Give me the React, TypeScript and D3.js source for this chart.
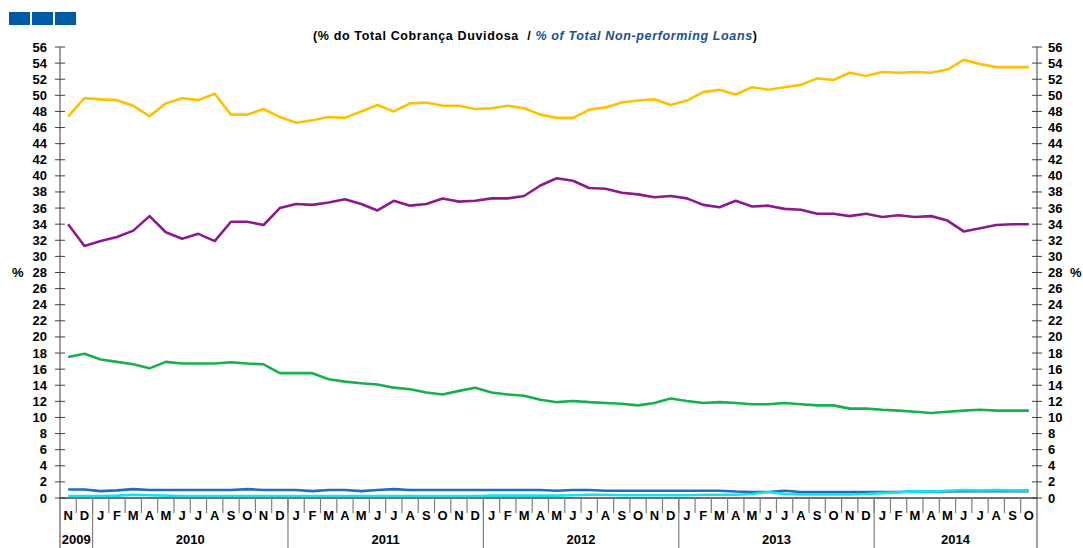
import React from "react";
import * as d3 from "d3";

const categories: string[] = [
  "N", "D",
  "J", "F", "M", "A", "M", "J", "J", "A", "S", "O", "N", "D",
  "J", "F", "M", "A", "M", "J", "J", "A", "S", "O", "N", "D",
  "J", "F", "M", "A", "M", "J", "J", "A", "S", "O", "N", "D",
  "J", "F", "M", "A", "M", "J", "J", "A", "S", "O", "N", "D",
  "J", "F", "M", "A", "M", "J", "J", "A", "S", "O",
];
const years: string[] = ["2009", "2010", "2011", "2012", "2013", "2014"];
const monthsPerYear: number[] = [2, 12, 12, 12, 12, 10];

const yellowSeries: number[] = [
  47.4, 49.65, 49.5, 49.4, 48.7, 47.4, 49.0, 49.65, 49.4, 50.2,
  47.6, 47.6, 48.3, 47.3, 46.6, 46.9, 47.3, 47.2, 48.0, 48.8,
  48.0, 49.0, 49.1, 48.7, 48.7, 48.3, 48.4, 48.7, 48.4, 47.6,
  47.2, 47.2, 48.2, 48.5, 49.1, 49.35, 49.5, 48.8, 49.35, 50.4,
  50.7, 50.1, 51.0, 50.7, 51.0, 51.3, 52.1, 51.9, 52.8, 52.4,
  52.9, 52.8, 52.9, 52.8, 53.2, 54.4, 53.9, 53.5, 53.5, 53.5,
];
const purpleSeries: number[] = [
  34.0, 31.3, 31.9, 32.4, 33.2, 35.0, 33.0, 32.2, 32.8, 31.9,
  34.3, 34.3, 33.9, 36.0, 36.5, 36.4, 36.7, 37.1, 36.5, 35.7,
  36.9, 36.3, 36.5, 37.2, 36.8, 36.9, 37.2, 37.2, 37.5, 38.8,
  39.7, 39.4, 38.5, 38.4, 37.9, 37.7, 37.35, 37.5, 37.2, 36.4,
  36.1, 36.9, 36.2, 36.3, 35.9, 35.8, 35.3, 35.3, 35.0, 35.3,
  34.9, 35.1, 34.9, 35.0, 34.45, 33.1, 33.5, 33.9, 34.0, 34.0,
];
const greenSeries: number[] = [
  17.5, 17.9, 17.2, 16.9, 16.6, 16.1, 16.9, 16.7, 16.7, 16.7,
  16.85, 16.7, 16.6, 15.5, 15.5, 15.5, 14.75, 14.45, 14.25, 14.1,
  13.7, 13.5, 13.1, 12.85, 13.3, 13.7, 13.1, 12.85, 12.7, 12.2,
  11.9, 12.05, 11.9, 11.8, 11.7, 11.5, 11.8, 12.35, 12.05, 11.8,
  11.9, 11.8, 11.65, 11.65, 11.8, 11.65, 11.5, 11.5, 11.1, 11.1,
  10.95, 10.85, 10.7, 10.55, 10.7, 10.85, 10.95, 10.85, 10.85, 10.85,
];
const blueSeries: number[] = [
  1.05, 1.05, 0.85, 0.95, 1.1, 1.0, 1.0, 1.0, 1.0, 1.0,
  1.0, 1.1, 1.0, 1.0, 1.0, 0.85, 1.0, 1.0, 0.85, 1.0,
  1.1, 1.0, 1.0, 1.0, 1.0, 1.0, 1.0, 1.0, 1.0, 1.0,
  0.9, 1.0, 1.0, 0.9, 0.9, 0.9, 0.9, 0.9, 0.9, 0.9,
  0.9, 0.8, 0.75, 0.75, 0.9, 0.75, 0.75, 0.75, 0.75, 0.75,
  0.75, 0.75, 0.8, 0.8, 0.8, 0.85, 0.85, 0.85, 0.85, 0.85,
];
const cyanSeries: number[] = [
  0.25, 0.25, 0.25, 0.3, 0.4, 0.35, 0.3, 0.25, 0.25, 0.25,
  0.25, 0.25, 0.25, 0.25, 0.25, 0.25, 0.25, 0.25, 0.25, 0.25,
  0.25, 0.25, 0.25, 0.25, 0.25, 0.25, 0.3, 0.3, 0.3, 0.3,
  0.3, 0.35, 0.4, 0.4, 0.35, 0.35, 0.35, 0.35, 0.35, 0.4,
  0.4, 0.4, 0.5, 0.75, 0.5, 0.45, 0.45, 0.45, 0.45, 0.5,
  0.6, 0.7, 0.85, 0.8, 0.9, 1.0, 0.95, 1.0, 0.95, 0.95,
];

const seriesList = [
  { name: "yellow", values: yellowSeries, color: "#FFC000" },
  { name: "purple", values: purpleSeries, color: "#8B1A8E" },
  { name: "green", values: greenSeries, color: "#16B04E" },
  { name: "blue", values: blueSeries, color: "#1F6CC0" },
  { name: "cyan", values: cyanSeries, color: "#12E3F0" },
];

const yTickValues: number[] = d3.range(0, 57, 2);

export default function App() {
  const W = 1083;
  const H = 548;
  const left = 60;
  const right = 1037;
  const top = 47;
  const bottom = 498;
  const font = "'Liberation Sans', Arial, sans-serif";
  const axisColor = "#7f7f7f";

  const x = d3
    .scaleBand<number>()
    .domain(d3.range(categories.length))
    .range([left, right])
    .padding(0);
  const y = d3.scaleLinear().domain([0, 56]).range([bottom, top]);

  const line = d3
    .line<number>()
    .x((_, i) => (x(i) as number) + x.bandwidth() / 2)
    .y((d) => y(d));

  const yearSpans: { label: string; start: number; end: number }[] = [];
  let acc = 0;
  years.forEach((yr, k) => {
    yearSpans.push({ label: yr, start: acc, end: acc + monthsPerYear[k] });
    acc += monthsPerYear[k];
  });

  return (
    <svg
      width={W}
      height={H}
      style={{ position: "absolute", left: 0, top: 0, background: "#fff" }}
      fontFamily={font}
    >
      <rect x={0} y={0} width={W} height={H} fill="#fff" />
      {[9, 32, 55].map((sx, i) => (
        <rect key={i} x={sx} y={12} width={21} height={13} fill="#005BA6" />
      ))}
      <text
        x={313}
        y={40}
        textAnchor="start"
        fontSize={12.5}
        fontWeight="bold"
        fill="#000"
        textLength={444}
        lengthAdjust="spacing"
        style={{ whiteSpace: "pre" }}
      >
        <tspan>{"(% do Total Cobrança Duvidosa  / "}</tspan>
        <tspan fill="#1B4F8F" fontStyle="italic">% of Total Non-performing Loans</tspan>
        <tspan>)</tspan>
      </text>

      <line x1={left} x2={left} y1={top} y2={H} stroke={axisColor} strokeWidth={1.5} />
      <line x1={right} x2={right} y1={top} y2={H} stroke={axisColor} strokeWidth={1.5} />
      {yTickValues.map((v) => (
        <g key={v}>
          <line x1={left - 5} x2={left + 5} y1={y(v)} y2={y(v)} stroke="#404040" strokeWidth={1} />
          <line x1={right - 5} x2={right + 5} y1={y(v)} y2={y(v)} stroke="#404040" strokeWidth={1} />
          <text x={47} y={y(v) + 4.5} textAnchor="end" fontSize={13} fontWeight="bold" fill="#000">
            {v}
          </text>
          <text x={1048} y={y(v) + 4.5} textAnchor="start" fontSize={13} fontWeight="bold" fill="#000">
            {v}
          </text>
        </g>
      ))}
      <text x={12} y={y(28) + 4.5} fontSize={13} fontWeight="bold" fill="#000">%</text>
      <text x={1070} y={y(28) + 4.5} fontSize={13} fontWeight="bold" fill="#000">%</text>

      <line x1={left} x2={right} y1={bottom} y2={bottom} stroke="#404040" strokeWidth={1.5} />
      {categories.map((c, i) => {
        const bx = x(i) as number;
        return (
          <g key={i}>
            {i > 0 && (
              <line x1={bx} x2={bx} y1={bottom} y2={513} stroke={axisColor} strokeWidth={1.2} />
            )}
            <text
              x={bx + x.bandwidth() / 2}
              y={520}
              textAnchor="middle"
              fontSize={13}
              fontWeight="bold"
              fill="#000"
            >
              {c}
            </text>
          </g>
        );
      })}
      {yearSpans.map((s, k) => {
        const x0 = x(s.start) as number;
        const x1 = s.end >= categories.length ? right : (x(s.end) as number);
        return (
          <g key={s.label}>
            {k > 0 && <line x1={x0} x2={x0} y1={bottom} y2={H} stroke={axisColor} strokeWidth={1.2} />}
            <text x={(x0 + x1) / 2} y={544} textAnchor="middle" fontSize={13} fontWeight="bold" fill="#000">
              {s.label}
            </text>
          </g>
        );
      })}

      {seriesList.map((s) => (
        <path
          key={s.name}
          d={line(s.values) || ""}
          fill="none"
          stroke={s.color}
          strokeWidth={2.6}
          strokeLinejoin="round"
        />
      ))}
    </svg>
  );
}
